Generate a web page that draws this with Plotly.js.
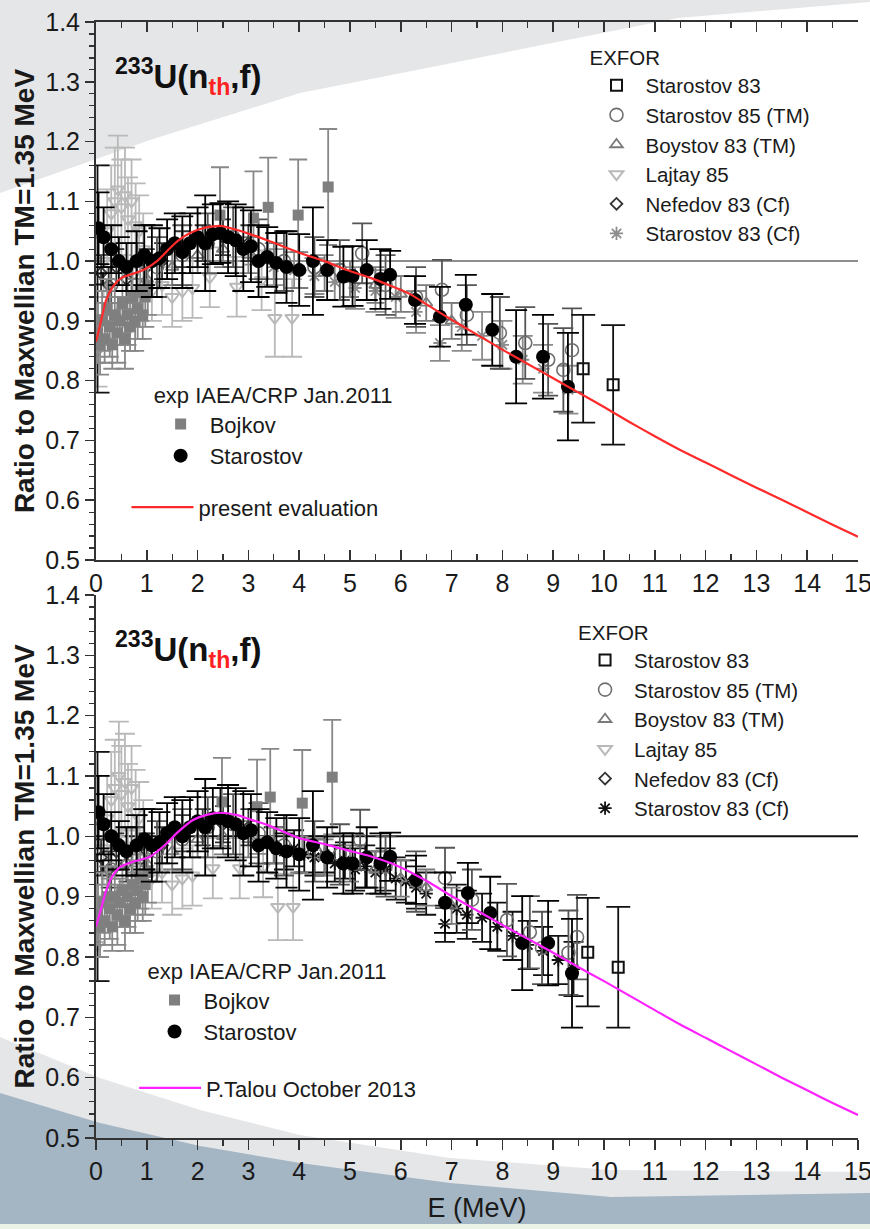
<!DOCTYPE html>
<html>
<head>
<meta charset="utf-8">
<script src="https://cdn.plot.ly/plotly-3.0.1.min.js"></script>
<style>
  html, body { margin:0; padding:0; background:#ffffff; }
  #wrap { position:relative; width:870px; height:1229px; overflow:hidden; }
  #bg { position:absolute; left:0; top:0; }
  #chart { position:absolute; left:0; top:0; width:870px; height:1229px; }
</style>
</head>
<body>
<div id="wrap">
<svg id="bg" width="870" height="1229" xmlns="http://www.w3.org/2000/svg">
  <rect x="0" y="0" width="870" height="1229" fill="#ffffff"/>
  <path d="M0,0 L870,0 L870,2 L678,18 L442,65 L300,93 L150,140 L0,193 Z" fill="#e5e6e8"/>
  <path d="M0,1037 L100,1078 L200,1110 L300,1135 L450,1158 L611,1170 L870,1172 L870,1229 L0,1229 Z" fill="#e5e6e8"/>
  <path d="M0,1093 L100,1123 L200,1146 L300,1163 L450,1183 L611,1197 L870,1193 L870,1229 L0,1229 Z" fill="#a4b5c4"/>
  <rect x="0" y="1224" width="870" height="5" fill="#eaf3e6"/>
</svg>
<div id="chart"></div>
</div>
<script>
// ---------------- DATA ----------------
// Evaluation curves
const evalE   = [0,0.1,0.2,0.33,0.5,0.7,0.93,1.2,1.4,1.6,1.85,2.1,2.44,2.78,3.0,3.37,4.0,4.5,4.94,5.4,5.85,6.2,6.5,7.0,7.5,8.0,8.5,9.0,9.5,10.0,10.5,11.0,11.5,12.0,12.5,13.0,13.5,14.0,14.5,15.0];
const evalTop = [0.865,0.90,0.935,0.957,0.972,0.978,0.985,1.0,1.017,1.033,1.047,1.055,1.059,1.052,1.046,1.035,1.014,1.0,0.985,0.972,0.957,0.944,0.928,0.902,0.877,0.852,0.828,0.804,0.78,0.756,0.731,0.707,0.684,0.663,0.642,0.621,0.601,0.58,0.559,0.539];
const talouE  = [0,0.1,0.2,0.33,0.47,0.7,1.06,1.4,1.6,1.91,2.2,2.44,2.78,3.0,3.37,4.0,4.5,4.94,5.4,5.85,6.2,6.57,7.0,7.5,8.0,8.5,9.0,9.5,10.0,10.5,11.0,11.5,12.0,12.5,13.0,13.5,14.0,14.5,15.0];
const talouV  = [0.85,0.88,0.91,0.935,0.949,0.957,0.966,0.989,1.006,1.027,1.036,1.039,1.035,1.029,1.019,0.997,0.987,0.977,0.967,0.954,0.94,0.923,0.901,0.877,0.853,0.83,0.807,0.783,0.76,0.736,0.712,0.688,0.666,0.644,0.622,0.6,0.579,0.558,0.538];

// ---- Top panel experimental data ----
const tStarE = [0.05,0.15,0.3,0.45,0.6,0.8,0.95,1.1,1.25,1.4,1.55,1.7,1.85,2.0,2.15,2.3,2.45,2.6,2.75,2.9,3.05,3.2,3.37,3.55,3.75,4.0,4.27,4.55,4.87,5.05,5.33,5.6,5.79,6.28,6.77,7.28,7.8,8.27,8.8,9.29];
const tStarV = [1.055,1.04,1.02,1.0,0.99,1.0,1.01,1.0,1.005,1.02,1.03,1.015,1.03,1.04,1.03,1.045,1.047,1.04,1.035,1.02,1.025,1.0,1.007,0.997,0.99,0.985,1.0,0.985,0.974,0.975,0.985,0.97,0.977,0.935,0.907,0.927,0.885,0.84,0.84,0.79];
const tStarErr=[0.06,0.05,0.04,0.04,0.04,0.05,0.05,0.06,0.05,0.05,0.05,0.06,0.05,0.05,0.08,0.05,0.05,0.06,0.06,0.07,0.06,0.06,0.05,0.05,0.06,0.06,0.09,0.05,0.05,0.05,0.05,0.05,0.04,0.04,0.05,0.05,0.06,0.078,0.07,0.09];

const tBojE = [0.03,0.08,0.12,0.17,0.22,0.27,0.32,0.37,0.42,0.47,0.52,0.57,0.62,0.67,0.72,0.77,0.82,0.87,0.92,0.97,1.02,2.44,3.1,3.39,3.98,4.57];
const tBojV = [0.88,0.86,0.9,0.87,0.92,0.89,0.86,0.91,0.88,0.9,0.93,0.87,0.91,0.89,0.94,0.9,0.92,0.95,0.91,0.94,0.96,1.077,1.072,1.09,1.077,1.124];
const tBojErr=[0.05,0.05,0.05,0.04,0.05,0.05,0.04,0.05,0.05,0.04,0.05,0.05,0.05,0.04,0.05,0.05,0.05,0.05,0.04,0.05,0.05,0.08,0.078,0.083,0.093,0.097];

const tLajE = [0.03,0.15,0.22,0.3,0.37,0.43,0.5,0.57,0.63,0.7,0.78,0.85,0.93,1.1,1.3,1.5,1.7,1.9,2.24,2.77,3.26,3.52,3.86];
const tLajV = [0.85,1.0,1.05,1.08,1.1,1.12,1.09,1.11,1.07,1.1,1.06,1.05,1.02,0.95,0.96,0.94,0.95,0.955,0.973,0.957,0.968,0.905,0.905];
const tLajErr=[0.06,0.06,0.07,0.08,0.09,0.09,0.08,0.08,0.07,0.07,0.07,0.06,0.06,0.05,0.05,0.05,0.05,0.05,0.05,0.05,0.05,0.065,0.065];

const tS83E = [0.03,9.59,10.18];
const tS83V = [0.97,0.82,0.793];
const tS83Err=[0.19,0.09,0.1];

const tS85E = [0.3,0.7,1.2,1.7,2.2,2.7,3.2,3.7,4.3,4.8,5.24,5.7,6.3,6.81,7.3,7.95,8.45,8.9,9.2,9.37];
const tS85V = [0.96,0.98,0.99,1.01,1.03,1.04,1.02,1.0,0.99,0.985,1.013,0.96,0.94,0.952,0.91,0.88,0.863,0.835,0.818,0.851];
const tS85Err=[0.05,0.05,0.05,0.05,0.05,0.05,0.05,0.05,0.05,0.05,0.05,0.05,0.05,0.05,0.05,0.06,0.06,0.06,0.07,0.07];

const tBoyE = [1.0,1.5,2.0,2.5,3.0,3.5,4.0,4.5,5.0,5.5,6.0,6.5,7.0];
const tBoyV = [0.97,0.99,1.01,1.02,1.01,1.0,0.985,0.98,0.97,0.96,0.945,0.93,0.9];
const tBoyErr=[0.03,0.03,0.03,0.03,0.03,0.03,0.03,0.03,0.03,0.03,0.03,0.03,0.03];

const tNefE = [0.1,0.25,0.4,0.6,0.8,1.0,1.3,1.7,2.1,2.5,3.0];
const tNefV = [0.98,0.96,0.99,0.97,1.0,0.99,1.0,1.02,1.03,1.04,1.03];
const tNefErr=[0.03,0.03,0.03,0.03,0.03,0.03,0.03,0.03,0.03,0.03,0.03];

const tCfE = [3.5,3.9,4.3,4.7,5.1,5.5,5.9,6.3,6.77,7.2,7.6,8.0,8.4,8.8,9.3];
const tCfV = [0.99,0.985,0.975,0.965,0.955,0.95,0.94,0.915,0.863,0.89,0.875,0.86,0.835,0.82,0.785];
const tCfErr=[0.03,0.03,0.03,0.03,0.035,0.035,0.035,0.035,0.03,0.04,0.04,0.04,0.04,0.04,0.04];

// ---- Bottom panel experimental data ----
const bStarE = [0.05,0.15,0.3,0.45,0.6,0.8,0.95,1.1,1.25,1.4,1.55,1.7,1.85,2.0,2.15,2.3,2.45,2.6,2.75,2.9,3.05,3.2,3.37,3.55,3.75,4.0,4.27,4.55,4.87,5.05,5.33,5.6,5.79,6.3,6.87,7.32,7.76,8.39,8.9,9.37];
const bStarV = [1.04,1.02,1.0,0.985,0.975,0.985,0.995,0.985,0.99,1.005,1.015,1.0,1.015,1.025,1.015,1.03,1.03,1.025,1.02,1.005,1.01,0.985,0.99,0.98,0.975,0.97,0.985,0.965,0.955,0.955,0.965,0.955,0.966,0.928,0.89,0.906,0.873,0.823,0.823,0.773];
const bStarErr=[0.06,0.05,0.04,0.04,0.04,0.05,0.05,0.06,0.05,0.05,0.05,0.06,0.05,0.05,0.08,0.05,0.05,0.06,0.06,0.07,0.06,0.06,0.05,0.05,0.06,0.06,0.09,0.05,0.05,0.05,0.05,0.05,0.04,0.04,0.05,0.05,0.06,0.078,0.07,0.09];

const bBojE = [0.03,0.08,0.12,0.17,0.22,0.27,0.32,0.37,0.42,0.47,0.52,0.57,0.62,0.67,0.72,0.77,0.82,0.87,0.92,0.97,1.02,2.48,3.17,3.43,4.06,4.65];
const bBojV = [0.87,0.85,0.89,0.86,0.9,0.88,0.85,0.9,0.87,0.89,0.91,0.86,0.9,0.88,0.92,0.89,0.91,0.93,0.9,0.92,0.94,1.057,1.049,1.065,1.055,1.098];
const bBojErr=[0.05,0.05,0.05,0.04,0.05,0.05,0.04,0.05,0.05,0.04,0.05,0.05,0.05,0.04,0.05,0.05,0.05,0.05,0.04,0.05,0.05,0.073,0.078,0.08,0.088,0.095];

const bLajE = [0.03,0.15,0.22,0.3,0.37,0.45,0.5,0.57,0.63,0.7,0.78,0.85,0.93,1.1,1.3,1.5,1.7,1.9,2.3,2.83,3.29,3.58,3.88];
const bLajV = [0.82,0.98,1.03,1.06,1.08,1.1,1.07,1.09,1.05,1.08,1.04,1.03,1.0,0.93,0.94,0.92,0.93,0.935,0.947,0.947,0.949,0.883,0.883];
const bLajErr=[0.06,0.06,0.07,0.08,0.08,0.09,0.08,0.08,0.07,0.07,0.07,0.06,0.06,0.05,0.05,0.05,0.05,0.05,0.05,0.05,0.05,0.055,0.055];

const bS83E = [0.03,9.68,10.28];
const bS83V = [0.95,0.808,0.783];
const bS83Err=[0.19,0.09,0.1];

const bS85E = [0.3,0.7,1.2,1.7,2.2,2.7,3.2,3.7,4.3,4.8,5.2,5.7,6.3,6.87,7.4,8.09,8.54,8.78,9.3,9.47];
const bS85V = [0.945,0.965,0.975,0.995,1.015,1.02,1.005,0.985,0.975,0.97,0.994,0.95,0.925,0.931,0.895,0.861,0.841,0.815,0.807,0.833];
const bS85Err=[0.05,0.05,0.05,0.05,0.05,0.05,0.05,0.05,0.05,0.05,0.05,0.05,0.05,0.05,0.05,0.06,0.06,0.06,0.07,0.07];

const bBoyE = [1.0,1.5,2.0,2.5,3.0,3.5,4.0,4.5,5.0,5.5,6.0,6.5,7.0];
const bBoyV = [0.955,0.975,0.995,1.0,0.995,0.985,0.97,0.965,0.955,0.945,0.93,0.915,0.885];
const bBoyErr=[0.03,0.03,0.03,0.03,0.03,0.03,0.03,0.03,0.03,0.03,0.03,0.03,0.03];

const bNefE = [0.1,0.25,0.4,0.6,0.8,1.0,1.3,1.7,2.1,2.5,3.0];
const bNefV = [0.965,0.945,0.975,0.955,0.985,0.975,0.985,1.005,1.015,1.02,1.015];
const bNefErr=[0.03,0.03,0.03,0.03,0.03,0.03,0.03,0.03,0.03,0.03,0.03];

const bCfE = [3.5,3.7,3.9,4.1,4.3,4.5,4.7,4.9,5.1,5.3,5.5,5.7,5.9,6.1,6.3,6.5,6.87,7.1,7.3,7.6,7.9,8.2,8.5,8.8,9.1,9.4];
const bCfV = [0.985,0.975,0.98,0.97,0.965,0.97,0.955,0.96,0.945,0.95,0.94,0.945,0.93,0.925,0.915,0.905,0.855,0.88,0.87,0.865,0.85,0.835,0.82,0.81,0.795,0.78];
const bCfErr=[0.03,0.03,0.03,0.03,0.03,0.03,0.03,0.03,0.035,0.035,0.035,0.035,0.035,0.035,0.035,0.035,0.03,0.04,0.04,0.04,0.04,0.04,0.04,0.04,0.04,0.045];

// ---------------- TRACES ----------------
function series(E, V, Err, opt) {
  return {
    type: 'scatter', mode: 'markers', x: E, y: V,
    name: opt.name, xaxis: opt.xa, yaxis: opt.ya, legend: opt.legend, legendrank: opt.rank,
    cliponaxis: true,
    marker: { symbol: opt.symbol, size: opt.size, color: opt.fill || opt.color,
              line: { color: opt.color, width: opt.lw == null ? 0 : opt.lw } },
    error_y: { type: 'data', array: Err, visible: true, color: opt.ecolor || opt.color,
               thickness: 1.8, width: opt.cap || 10 },
    hoverinfo: 'x+y'
  };
}
function curve(E, V, opt) {
  return { type: 'scatter', mode: 'lines', x: E, y: V, name: opt.name,
           xaxis: opt.xa, yaxis: opt.ya, legend: opt.legend,
           line: { color: opt.color, width: 2.2, shape: 'spline', smoothing: 0.6 } };
}

const traces = [];
function panel(xa, ya, L1, L2, L3, d, lineName, lineColor, cfColor) {
  // drawing order: back to front; legend order set by rank
  traces.push(series(d.lajE, d.lajV, d.lajErr, {name:'Lajtay 85', rank:4, xa, ya, legend:L1, symbol:'triangle-down-open', size:12, color:'#b9b9b9', lw:2, cap:10}));
  traces.push(series(d.cfE, d.cfV, d.cfErr, {name:'Starostov 83 (Cf)', rank:6, xa, ya, legend:L1, symbol:'asterisk-open', size:11, color:cfColor, lw:1.8, cap:10}));
  traces.push(series(d.boyE, d.boyV, d.boyErr, {name:'Boystov 83 (TM)', rank:3, xa, ya, legend:L1, symbol:'triangle-up-open', size:11, color:'#7a7a7a', lw:1.8, cap:9}));
  traces.push(series(d.nefE, d.nefV, d.nefErr, {name:'Nefedov 83 (Cf)', rank:5, xa, ya, legend:L1, symbol:'diamond-open', size:9, color:'#333333', lw:1.8, cap:8}));
  traces.push(series(d.s85E, d.s85V, d.s85Err, {name:'Starostov 85 (TM)', rank:2, xa, ya, legend:L1, symbol:'circle-open', size:13, color:'#6e6e6e', lw:1.6, ecolor:'#555555', cap:10}));
  traces.push(series(d.s83E, d.s83V, d.s83Err, {name:'Starostov 83', rank:1, xa, ya, legend:L1, symbol:'square-open', size:11, color:'#111111', lw:2, cap:12}));
  traces.push(series(d.bojE, d.bojV, d.bojErr, {name:'Bojkov', rank:1, xa, ya, legend:L2, symbol:'square', size:11, color:'#7f7f7f', lw:0, ecolor:'#888888', cap:9}));
  traces.push(series(d.starE, d.starV, d.starErr, {name:'Starostov', rank:2, xa, ya, legend:L2, symbol:'circle', size:14, color:'#000000', lw:0, cap:11}));
  traces.push(curve(d.curE, d.curV, {name:lineName, xa, ya, legend:L3, color:lineColor}));
}

panel('x', 'y', 'legend', 'legend2', 'legend3', {
  lajE:tLajE, lajV:tLajV, lajErr:tLajErr, cfE:tCfE, cfV:tCfV, cfErr:tCfErr,
  boyE:tBoyE, boyV:tBoyV, boyErr:tBoyErr, nefE:tNefE, nefV:tNefV, nefErr:tNefErr,
  s85E:tS85E, s85V:tS85V, s85Err:tS85Err, s83E:tS83E, s83V:tS83V, s83Err:tS83Err,
  bojE:tBojE, bojV:tBojV, bojErr:tBojErr, starE:tStarE, starV:tStarV, starErr:tStarErr,
  curE:evalE, curV:evalTop }, 'present evaluation', '#ff2a2a', '#8c8c8c');

panel('x2', 'y2', 'legend4', 'legend5', 'legend6', {
  lajE:bLajE, lajV:bLajV, lajErr:bLajErr, cfE:bCfE, cfV:bCfV, cfErr:bCfErr,
  boyE:bBoyE, boyV:bBoyV, boyErr:bBoyErr, nefE:bNefE, nefV:bNefV, nefErr:bNefErr,
  s85E:bS85E, s85V:bS85V, s85Err:bS85Err, s83E:bS83E, s83V:bS83V, s83Err:bS83Err,
  bojE:bBojE, bojV:bBojV, bojErr:bBojErr, starE:bStarE, starV:bStarV, starErr:bStarErr,
  curE:talouE, curV:talouV }, 'P.Talou October 2013', '#ff22ff', '#111111');

// ---------------- LAYOUT ----------------
const FONT = 'Liberation Sans, Arial, Helvetica, sans-serif';
const TXT = '#1a1a1a';
const AX = '#333333';

function xAxis(anchor, ticksDir, showTitle) {
  const a = {
    domain: [0, 1], anchor: anchor, range: [0, 15], autorange: false,
    dtick: 1, tick0: 0, ticks: ticksDir, ticklen: 10, tickwidth: 1.5, tickcolor: AX,
    minor: { dtick: 0.5, ticks: ticksDir, ticklen: 6, tickwidth: 1.3, tickcolor: AX },
    showline: true, linewidth: 2, linecolor: AX, showgrid: false, zeroline: false,
    ticklabeloverflow: 'allow',
    tickfont: { family: FONT, size: 25, color: TXT }, fixedrange: true
  };
  if (showTitle) a.title = { text: 'E (MeV)', font: { family: FONT, size: 27, color: TXT }, standoff: 14 };
  return a;
}
function yAxis(domain, anchor) {
  return {
    domain: domain, anchor: anchor, range: [0.5, 1.4], autorange: false,
    dtick: 0.1, tick0: 0.5, tickformat: '.1f',
    ticks: 'outside', ticklen: 9, tickwidth: 1.5, tickcolor: AX,
    minor: { dtick: 0.02, ticks: 'outside', ticklen: 5, tickwidth: 1.3, tickcolor: AX },
    showline: true, linewidth: 2, linecolor: AX, showgrid: false, zeroline: false,
    tickfont: { family: FONT, size: 25, color: TXT }, fixedrange: true,
    title: { text: '<b>Ratio to Maxwellian TM=1.35 MeV</b>', font: { family: FONT, size: 28, color: TXT }, standoff: 2 }
  };
}
function mirrorY(over, anchor) {
  return { overlaying: over, anchor: anchor, side: 'right', range: [0.5, 1.4], autorange: false,
    dtick: 0.1, tick0: 0.5, ticks: 'inside', ticklen: 8, tickwidth: 1.5, tickcolor: AX,
    minor: { dtick: 0.02, ticks: 'inside', ticklen: 5, tickwidth: 1.3, tickcolor: AX },
    showline: true, linewidth: 2, linecolor: AX, showgrid: false, zeroline: false,
    showticklabels: false, fixedrange: true };
}
function mirrorX(over, anchor) {
  return { overlaying: over, anchor: anchor, side: 'top', range: [0, 15], autorange: false,
    dtick: 1, tick0: 0, ticks: 'inside', ticklen: 10, tickwidth: 1.5, tickcolor: AX,
    minor: { dtick: 0.5, ticks: 'inside', ticklen: 6, tickwidth: 1.3, tickcolor: AX },
    showline: true, linewidth: 2, linecolor: AX, showgrid: false, zeroline: false,
    showticklabels: false, fixedrange: true };
}

function legendBox(x, yTop, size, itemwidth, titleText) {
  const l = { x: x, y: yTop, xanchor: 'left', yanchor: 'top', orientation: 'v',
    bgcolor: 'rgba(0,0,0,0)', borderwidth: 0, itemwidth: itemwidth, tracegroupgap: 0,
    traceorder: 'normal', font: { family: FONT, size: size, color: TXT },
    itemclick: false, itemdoubleclick: false };
  if (titleText) l.title = { text: titleText, side: 'top', font: { family: FONT, size: size, color: TXT } };
  return l;
}

const titleText = '<b><sup>233</sup>U(n<sub><span style="color:#ff2222">th</span></sub>,f)</b>';

const layout = {
  width: 870, height: 1229,
  margin: { l: 96, r: 12, t: 22, b: 91, pad: 0 },
  paper_bgcolor: 'rgba(0,0,0,0)', plot_bgcolor: 'rgba(0,0,0,0)',
  showlegend: true,
  font: { family: FONT, color: TXT },
  xaxis: Object.assign(xAxis('y', 'inside', false), { mirror: 'ticks' }),
  yaxis: yAxis([0.5179, 1], 'x'),
  xaxis2: xAxis('y2', 'outside', true),
  yaxis2: yAxis([0, 0.4866], 'x2'),
  yaxis3: mirrorY('y', 'x'),
  yaxis4: mirrorY('y2', 'x2'),
  xaxis3: mirrorX('x2', 'y2'),
  legend:  legendBox(0.645, 0.985, 20.5, 48, 'EXFOR'),
  legend2: legendBox(0.073, 0.684, 22, 48, 'exp IAEA/CRP Jan.2011'),
  legend3: legendBox(0.040, 0.584, 22, 62, null),
  legend4: legendBox(0.630, 0.470, 20.5, 48, 'EXFOR'),
  legend5: legendBox(0.065, 0.168, 22, 48, 'exp IAEA/CRP Jan.2011'),
  legend6: legendBox(0.050, 0.0635, 22, 62, null),
  shapes: [
    { type: 'line', xref: 'x', yref: 'y', x0: 0, x1: 15, y0: 1, y1: 1, layer: 'below', line: { color: '#8e8e8e', width: 2 } },
    { type: 'line', xref: 'x2', yref: 'y2', x0: 0, x1: 15, y0: 1, y1: 1, layer: 'below', line: { color: '#111111', width: 2 } }
  ],
  annotations: [
    { xref: 'paper', yref: 'paper', x: 0.0223, y: 0.9516, xanchor: 'left', yanchor: 'middle', showarrow: false,
      text: titleText, font: { family: FONT, size: 33, color: '#111111' } },
    { xref: 'paper', yref: 'paper', x: 0.0223, y: 0.4373, xanchor: 'left', yanchor: 'middle', showarrow: false,
      text: titleText, font: { family: FONT, size: 33, color: '#111111' } }
  ]
};

Plotly.newPlot('chart', traces, layout, { staticPlot: true, displayModeBar: false });
</script>
</body>
</html>
